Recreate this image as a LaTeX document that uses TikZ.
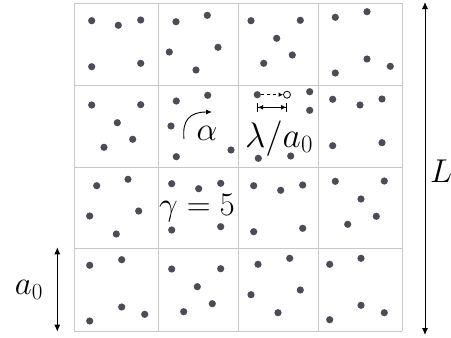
\documentclass[tikz,border=0pt]{standalone}
\usepackage{fix-cm}
\usetikzlibrary{arrows.meta}
\begin{document}
\begin{tikzpicture}[x=1pt,y=-1pt,
  gridline/.style={draw=black!22,line width=0.8pt},
  dot/.style={circle,fill=dotcol,inner sep=0pt,minimum size=7.2pt},
  hollow/.style={circle,draw=black,fill=white,line width=0.8pt,inner sep=0pt,minimum size=7pt},
  dimarrow/.style={line width=0.9pt,{Latex[length=7pt,width=6pt]}-{Latex[length=7pt,width=6pt]}},
  lbl/.style={inner sep=0pt,font=\fontsize{33}{40}\selectfont}]
\definecolor{dotcol}{HTML}{4A4D55}
\useasboundingbox (0,0) rectangle (451,338);
% grid
\foreach \x in {74,158,238,318,402} \draw[gridline] (\x,3) -- (\x,331);
\foreach \y in {3,85,167,248,331} \draw[gridline] (74,\y) -- (402,\y);
% dots
\foreach \p [count=\i] in {
 {91.7,20.7},{118.3,25.3},{140.7,20},{91.7,66.7},{140.7,63.3},
 {176,21.7},{207.3,15.3},{169.3,52},{218,47.3},{196,70},
 {251,20.7},{300.3,20.3},{276.7,38.3},{292.3,55},{263.7,63.3},
 {335.3,17.3},{367,11.7},{367,59},{390.3,66.3},{335.3,73},
 {91.7,105},{140.7,104.7},{117.3,122.7},{132.7,139.3},{104,147.3},
 {176.3,101},{207.7,95.3},{171,126},{176.3,156.7},{231,150},
 {309.7,91.7},{309.7,110.3},{258.3,158.3},{290.7,156},
 {332.7,99.3},{360,105},{382,99},{332.7,145.7},{382,142.7},
 {96.7,185.7},{128,179.3},{89.7,216},{138.7,211},{116.3,234},
 {171.7,183.7},{198.7,188.7},{220.7,183.3},{171.7,230},{220.7,226.7},
 {253.7,185.7},{280.7,190.3},{302.7,185},{253.7,231.7},{302.7,228.3},
 {335.3,181.3},{384.3,181},{361,199},{376.3,216.3},{347.7,224.3},
 {89.7,265.3},{121.7,259.7},{121.7,307},{144.7,314.3},{89.7,321},
 {171.7,269},{220.7,268.7},{197.3,286.7},{212.3,303.7},{183.7,311.7},
 {258,264.3},{289.7,258.3},{251,294.7},{300.3,290},{278,312.7},
 {329.7,264.3},{361,258.3},{361,305.3},{384.3,312.7},{329.7,319.7}}
 \node[dot] (d\i) at (\p) {};
% lambda hop
\node[dot] (src) at (257.3,94.7) {};
\node[hollow] (dst) at (287,94.7) {};
\draw[line width=0.8pt,dashed,-{Latex[length=4.5pt,width=4.5pt]}] (src) -- (dst);
\coordinate (la) at (257.3,107.3);
\coordinate (lb) at (287,107.3);
\draw[line width=0.9pt,{Bar[width=9pt]Latex[length=5pt,width=5pt]}-{Latex[length=5pt,width=5pt]Bar[width=9pt]}] (la) -- (lb);
\node[lbl,font=\fontsize{35.5}{42}\selectfont] (lam) at (279,138.5) {$\lambda/a_0$};
% alpha
\node[lbl] (alp) at (207,133) {$\alpha$};
\coordinate (as) at (184,139);
\coordinate (ae) at (212,112);
\draw[line width=0.9pt,-{Latex[length=6pt,width=5pt]}] (as) .. controls (182,120) and (190,112) .. (ae);
% gamma
\node[lbl] (gam) at (197,208) {$\gamma=5$};
% a0 arrow
\coordinate (a0t) at (57.3,247.3);
\coordinate (a0b) at (57.3,331.7);
\draw[dimarrow] (a0t) -- (a0b);
\node[lbl] (a0) at (29,290) {$a_0$};
% L arrow
\coordinate (Lt) at (425,2);
\coordinate (Lb) at (425,335);
\draw[dimarrow] (Lt) -- (Lb);
\node[lbl] (L) at (441,171) {$L$};
\end{tikzpicture}
\end{document}
